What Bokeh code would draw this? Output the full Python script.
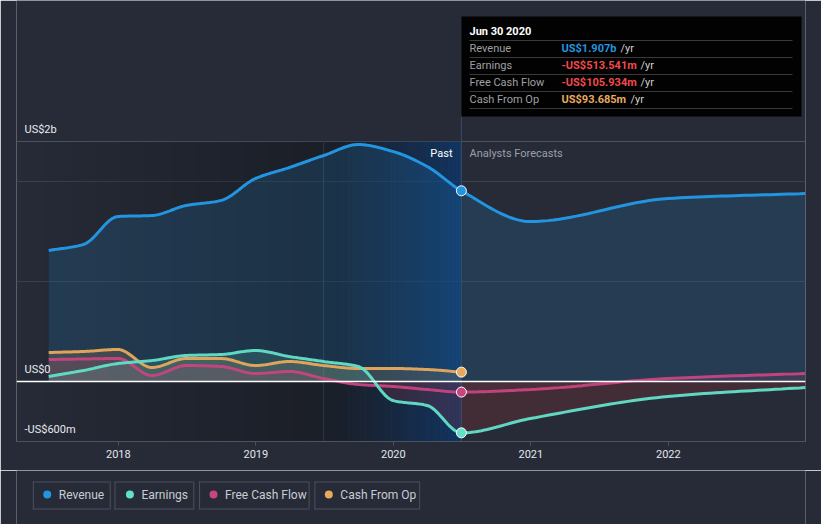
import numpy as np
import pandas as pd
from bokeh.plotting import figure
from bokeh.layouts import column
from bokeh.models import Range1d, FixedTicker, Grid, Label, Span
from bokeh.embed import file_html
from bokeh.resources import INLINE

# ---------------- data (US$ billions) ----------------
past_dates = ["2017-06-30", "2017-09-30", "2017-12-31", "2018-03-31", "2018-06-30",
              "2018-09-30", "2018-12-31", "2019-03-31", "2019-06-30", "2019-09-30",
              "2019-12-31", "2020-03-31", "2020-06-30"]
forecast_dates = ["2020-12-31", "2021-12-31", "2022-12-31"]

revenue_past = [1.31, 1.37, 1.65, 1.66, 1.76, 1.81, 2.03, 2.14, 2.26, 2.37, 2.30, 2.15, 1.907]
revenue_forecast = [1.60, 1.83, 1.88]
earnings_past = [0.05, 0.11, 0.18, 0.21, 0.26, 0.27, 0.31, 0.25, 0.20, 0.15, -0.19, -0.24, -0.5135]
earnings_forecast = [-0.37, -0.15, -0.06]
fcf_past = [0.22, 0.225, 0.23, 0.06, 0.16, 0.15, 0.08, 0.10, 0.03, -0.03, -0.05, -0.08, -0.1059]
fcf_forecast = [-0.08, 0.03, 0.08]
cfo_past = [0.29, 0.30, 0.32, 0.14, 0.23, 0.23, 0.16, 0.20, 0.16, 0.13, 0.13, 0.12, 0.0937]

year_ticks = [2018, 2019, 2020, 2021, 2022]
y_grid_values = [1.0, 2.0]
y_top, y_bottom = 2.4, -0.6
y_labels = ["US$2b", "US$0", "-US$600m"]

series_names = ["Revenue", "Earnings", "Free Cash Flow", "Cash From Op"]
series_colors = ["#2394df", "#62e0c9", "#c8457f", "#e9a95c"]

tooltip_title = "Jun 30 2020"
tooltip_values = ["US$1.907b", "-US$513.541m", "-US$105.934m", "US$93.685m"]
tooltip_colors = ["#2394df", "#f04a4a", "#f04a4a", "#e9a95c"]

BG = "#262b37"


def dec_year(s):
    d = pd.Timestamp(s)
    start = pd.Timestamp(year=d.year, month=1, day=1)
    end = pd.Timestamp(year=d.year + 1, month=1, day=1)
    return d.year + (d - start) / (end - start)


def smooth(xs, ys, n=24):
    """monotone cubic rendering of a series (Fritsch-Carlson style)"""
    x = np.asarray(xs, float)
    y = np.asarray(ys, float)
    h = np.diff(x)
    d = np.diff(y) / h
    m = np.zeros_like(y)
    m[0], m[-1] = d[0], d[-1]
    for i in range(1, len(y) - 1):
        if d[i - 1] * d[i] > 0:
            h0, h1 = h[i - 1], h[i]
            m[i] = 3 * (h0 + h1) / ((2 * h1 + h0) / d[i - 1] + (h1 + 2 * h0) / d[i])
        else:
            m[i] = 0.0
    X, Y = [], []
    for i in range(len(h)):
        t = np.linspace(0, 1, n, endpoint=(i == len(h) - 1))
        h00 = 2 * t**3 - 3 * t**2 + 1
        h10 = t**3 - 2 * t**2 + t
        h01 = -2 * t**3 + 3 * t**2
        h11 = t**3 - t**2
        X.append(x[i] + t * h[i])
        Y.append(h00 * y[i] + h10 * h[i] * m[i] + h01 * y[i + 1] + h11 * h[i] * m[i + 1])
    return np.concatenate(X), np.concatenate(Y)


tp = [dec_year(s) for s in past_dates]
tf = [dec_year(s) for s in forecast_dates]
t_now = tp[-1]
t_mid = dec_year("2019-06-30")

# main frame: pixel 16..805 horizontally, 0..441 vertically
PX_PER_YEAR = 137.5
x_end = tf[-1]
x_start = x_end - (805 - 16) / PX_PER_YEAR
y_max = y_bottom + 441 / 100.0


def px2x(px):
    return x_start + (px - 16) / PX_PER_YEAR


def px2y(py):
    return y_max - py / 100.0


p = figure(width=821, height=470, output_backend="svg", toolbar_location=None,
           x_range=Range1d(x_start, x_end), y_range=Range1d(y_bottom, y_max),
           y_axis_location=None,
           min_border_left=16, min_border_right=16, min_border_top=0, min_border_bottom=29,
           background_fill_color=BG, border_fill_color=BG, outline_line_color=None)
p.title.visible = False
for r in list(p.center):
    if isinstance(r, Grid):
        r.visible = False

p.add_layout(Grid(dimension=1, ticker=FixedTicker(ticks=y_grid_values),
                  grid_line_color="#3a404c", grid_line_width=1))
p.add_layout(Grid(dimension=1, ticker=FixedTicker(ticks=[y_top]),
                  grid_line_color="#4c525e", grid_line_width=1))

ax = p.xaxis[0]
ax.ticker = FixedTicker(ticks=year_ticks)
ax.major_label_overrides = {y: str(y) for y in year_ticks}
ax.axis_line_color = "#4c525e"
ax.major_tick_line_color = "#4c525e"
ax.major_tick_in = 0
ax.major_tick_out = 4
ax.minor_tick_line_color = None
ax.major_label_text_color = "#e4e6ea"
ax.major_label_text_font = "Roboto"
ax.major_label_text_font_size = "11px"
ax.major_label_standoff = 4

# background shading: past darkening, last year highlighted
N = 50
e1 = np.linspace(x_start, t_mid, N + 1)
p.quad(left=e1[:-1], right=e1[1:], bottom=y_bottom, top=y_top, fill_color="black",
       fill_alpha=list(np.linspace(0.0, 0.28, N)), line_color=None)
p.quad(left=[t_mid], right=[t_now], bottom=y_bottom, top=y_top, fill_color="black",
       fill_alpha=0.28, line_color=None)
e2 = np.linspace(t_mid, t_now, N + 1)
p.quad(left=e2[:-1], right=e2[1:], bottom=y_bottom, top=y_top, fill_color="#0c4690",
       fill_alpha=list(0.02 + 0.55 * np.linspace(0, 1, N) ** 1.3), line_color=None)
p.segment(x0=[t_mid], y0=[y_bottom], x1=[t_mid], y1=[y_top], line_color="#2c3b52", line_width=1)

# series
rx, ry = smooth(tp + tf, revenue_past + revenue_forecast)
ex, ey = smooth(tp + tf, earnings_past + earnings_forecast)
fx, fy = smooth(tp + tf, fcf_past + fcf_forecast)
cx, cy = smooth(tp, cfo_past)

p.varea(x=rx, y1=0, y2=ry, fill_color=series_colors[0], fill_alpha=0.17)
p.varea(x=cx, y1=0, y2=cy, fill_color=series_colors[3], fill_alpha=0.16)
p.varea(x=ex, y1=0, y2=np.maximum(ey, 0), fill_color=series_colors[1], fill_alpha=0.16)
p.varea(x=ex, y1=0, y2=np.minimum(ey, 0), fill_color="#e63c3c", fill_alpha=0.15)
p.varea(x=fx, y1=0, y2=np.maximum(fy, 0), fill_color=series_colors[2], fill_alpha=0.14)
p.varea(x=fx, y1=0, y2=np.minimum(fy, 0), fill_color=series_colors[2], fill_alpha=0.07)

p.add_layout(Span(location=0, dimension="width", line_color="white", line_width=1.5))

p.line(cx, cy, line_color=series_colors[3], line_width=3, line_alpha=0.95)
p.line(fx, fy, line_color=series_colors[2], line_width=3, line_alpha=0.95)
p.line(ex, ey, line_color=series_colors[1], line_width=3, line_alpha=0.95)
p.line(rx, ry, line_color=series_colors[0], line_width=3)

# now line
p.segment(x0=[t_now], y0=[y_bottom], x1=[t_now], y1=[px2y(116)], line_color="#3a4c66", line_width=1)

now_vals = [revenue_past[-1], earnings_past[-1], fcf_past[-1], cfo_past[-1]]
p.scatter(x=[t_now] * 4, y=now_vals, size=10, fill_color=series_colors,
          line_color="white", line_width=1)


def lab(px, py, text, color, size="11px", bold=False, align="left"):
    p.add_layout(Label(x=px2x(px), y=px2y(py), text=text, text_color=color,
                       text_font="Roboto", text_font_size=size,
                       text_font_style="bold" if bold else "normal",
                       text_align=align, text_baseline="middle"))


# y labels
for txt, py in zip(y_labels, [129, 369, 429]):
    lab(24, py, txt, "#e8eaee", size="11px")

lab(452, 153, "Past", "#ffffff", align="right")
lab(469, 153, "Analysts Forecasts", "#9aa0aa")

# tooltip
p.quad(left=[px2x(461)], right=[px2x(801)], top=[px2y(16)], bottom=[px2y(116)],
       fill_color="black", fill_alpha=0.95, line_color=None)
lab(469, 31, tooltip_title, "#ffffff", bold=True)
for py in [40, 57, 74, 91, 108]:
    p.segment(x0=[px2x(469)], y0=[px2y(py)], x1=[px2x(792)], y1=[px2y(py)],
              line_color="#3a3a3a", line_width=1)
rows_y = [48, 65, 82, 99]
yr_x = [620, 640, 640, 630]
for name, val, col, py, yx in zip(series_names, tooltip_values, tooltip_colors, rows_y, yr_x):
    lab(469, py, name, "#a0a0a0")
    lab(561, py, val, col, bold=True)
    lab(yx, py, "/yr", "#cfcfcf")

# ---------------- legend (separate strip below, pixel coordinates) ----------------
LH = 54  # strip covers canvas rows 470..524
lg = figure(width=821, height=LH, output_backend="svg", toolbar_location=None,
            x_range=Range1d(0, 821), y_range=Range1d(LH, 0),
            x_axis_location=None, y_axis_location=None,
            min_border=0, background_fill_color=BG, border_fill_color=BG,
            outline_line_color=None)
lg.title.visible = False
for r in list(lg.center):
    if isinstance(r, Grid):
        r.visible = False
OFF = 470
boxes = [(17, 97), (102, 184), (190, 304), (310, 419)]
dots = [32, 118, 205, 325]
texts = [44, 130, 217, 337]
for (l, r) in boxes:
    lg.segment(x0=[l, l, l + 0.5, r + 0.5], y0=[481.5 - OFF, 508.5 - OFF, 481 - OFF, 481 - OFF],
               x1=[r, r, l + 0.5, r + 0.5], y1=[481.5 - OFF, 508.5 - OFF, 509 - OFF, 509 - OFF],
               line_color="#4a505c", line_width=1)
lg.scatter(x=dots, y=[494 - OFF] * 4, size=8, fill_color=series_colors, line_color=None)
lg.text(x=texts, y=[494 - OFF] * 4, text=series_names, text_color="#c9ccd2",
        text_font_size="12px", text_baseline="middle", text_align="left",
        text_font={"value": "Roboto"})

layout = column(p, lg, spacing=0)
open("out.html", "w").write(file_html(layout, INLINE))
